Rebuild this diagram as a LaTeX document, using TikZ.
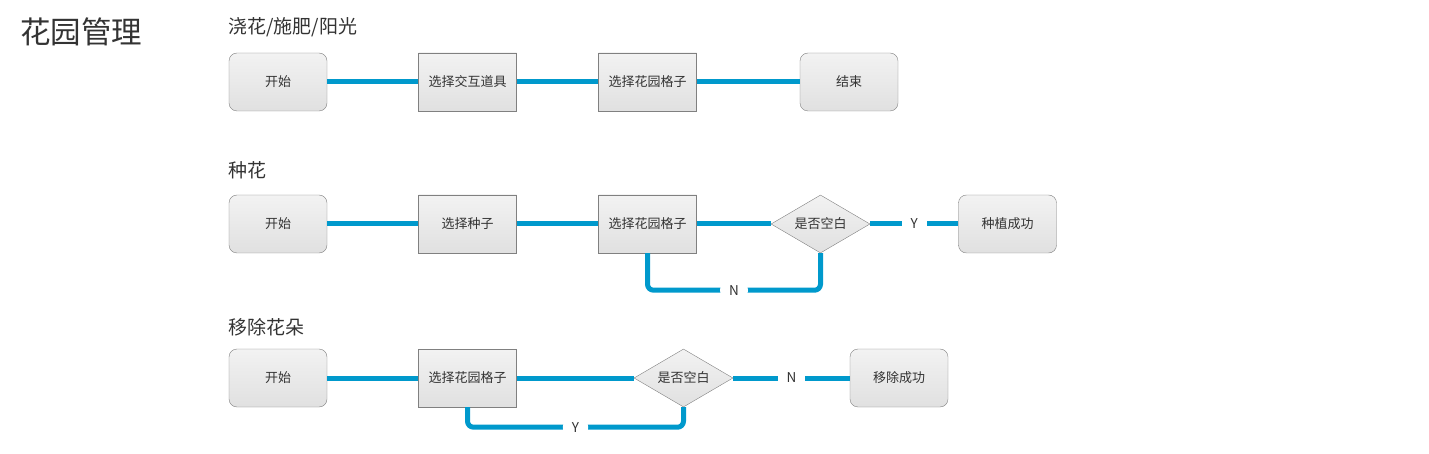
\documentclass[tikz,border=0pt]{standalone}
\usepackage{fontspec}
\setmainfont{Noto Sans CJK SC}
\usetikzlibrary{shapes.geometric}

\definecolor{flowblue}{RGB}{0,153,204}
\definecolor{boxline}{RGB}{128,128,128}
\definecolor{txtgray}{RGB}{51,51,51}

\tikzset{
	stepbox/.style={draw=boxline, top color=white!95!black, bottom color=white!88!black,
		minimum width=98pt, minimum height=58pt, inner sep=0, text=txtgray,
		font=\fontsize{13}{15}\selectfont},
	endbox/.style={stepbox, rounded corners=8pt},
	askbox/.style={stepbox, diamond, shape aspect=1.7, minimum width=99pt, minimum height=58pt},
	flow/.style={draw=flowblue, line width=5pt},
	yn/.style={fill=white, text=txtgray, inner xsep=9pt, inner ysep=2pt, font=\fontsize{13.5}{15}\selectfont},
	title/.style={anchor=west, text=txtgray, inner sep=0}
}

\begin{document}
\begin{tikzpicture}[x=1pt, y=-1pt]
	\useasboundingbox (0,0) rectangle (1429,454);

	\node[title, font=\fontsize{30.5}{34}\selectfont] (head) at (20,32) {花园管理};

	% water / fertilize / sun
	\node[title, font=\fontsize{19}{21}\selectfont] (t1) at (228,27) {浇花/施肥/阳光};
	\node[endbox] (start1) at (278,82) {开始};
	\node[stepbox] (tool1) at (467.5,82) {选择交互道具};
	\node[stepbox] (grid1) at (647.5,82) {选择花园格子};
	\node[endbox] (end1) at (849,82) {结束};
	\draw[flow] (start1) -- (tool1);
	\draw[flow] (tool1) -- (grid1);
	\draw[flow] (grid1) -- (end1);

	% plant
	\node[title, font=\fontsize{19}{21}\selectfont] (t2) at (228,170) {种花};
	\node[endbox] (start2) at (278,224) {开始};
	\node[stepbox] (seed2) at (467.5,224) {选择种子};
	\node[stepbox] (grid2) at (647.5,224) {选择花园格子};
	\node[askbox] (ask2) at (820.5,224) {是否空白};
	\node[endbox] (ok2) at (1007.5,224) {种植成功};
	\draw[flow] (start2) -- (seed2);
	\draw[flow] (seed2) -- (grid2);
	\draw[flow] (grid2) -- (ask2);
	\draw[flow] (ask2) -- node[yn] {Y} (ok2);
	\draw[flow, rounded corners=6pt] (grid2.south) -- ++(0,37) -| node[yn, pos=0.25] {N} (ask2.south);

	% remove
	\node[title, font=\fontsize{19}{21}\selectfont] (t3) at (228,327) {移除花朵};
	\node[endbox] (start3) at (278,378) {开始};
	\node[stepbox] (grid3) at (467.5,378) {选择花园格子};
	\node[askbox] (ask3) at (683.5,378) {是否空白};
	\node[endbox] (ok3) at (899,378) {移除成功};
	\draw[flow] (start3) -- (grid3);
	\draw[flow] (grid3) -- (ask3);
	\draw[flow] (ask3) -- node[yn] {N} (ok3);
	\draw[flow, rounded corners=6pt] (grid3.south) -- ++(0,20) -| node[yn, pos=0.25] {Y} (ask3.south);
\end{tikzpicture}
\end{document}
